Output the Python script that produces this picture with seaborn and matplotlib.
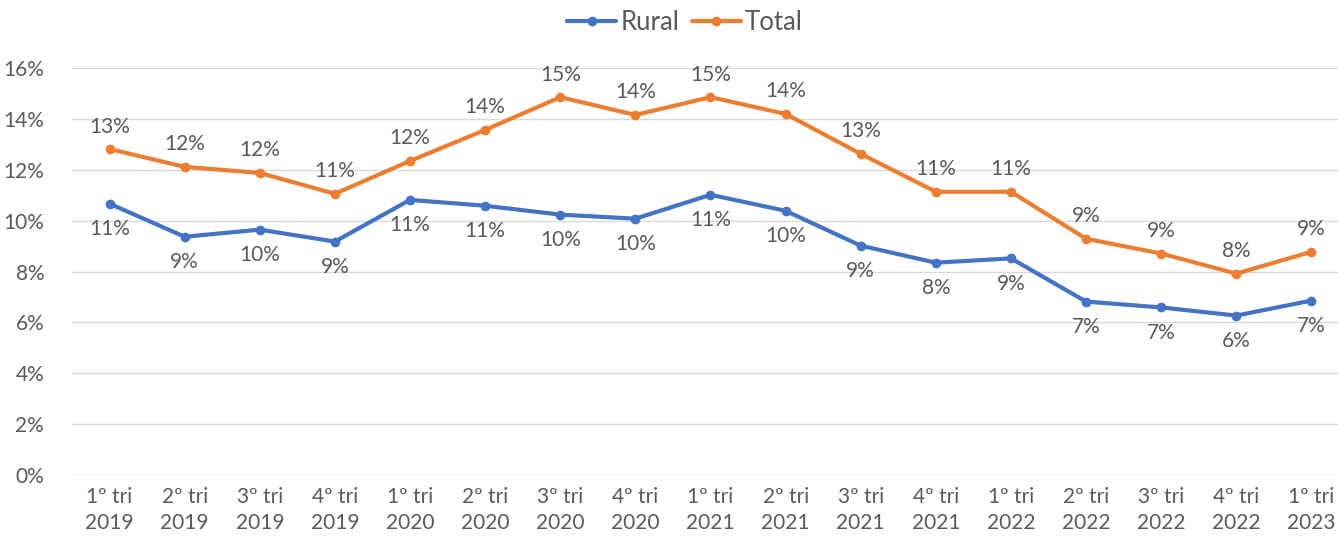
import numpy as np
import pandas as pd
import seaborn as sns
import matplotlib.pyplot as plt
from matplotlib.ticker import PercentFormatter

# dados
trimestres = ["1º tri\n2019", "2º tri\n2019", "3º tri\n2019", "4º tri\n2019",
              "1º tri\n2020", "2º tri\n2020", "3º tri\n2020", "4º tri\n2020",
              "1º tri\n2021", "2º tri\n2021", "3º tri\n2021", "4º tri\n2021",
              "1º tri\n2022", "2º tri\n2022", "3º tri\n2022", "4º tri\n2022",
              "1º tri\n2023"]
rural = [0.1067, 0.0937, 0.0965, 0.0918, 0.1082, 0.1059, 0.1024, 0.1008,
         0.1102, 0.1039, 0.0902, 0.0835, 0.0852, 0.0682, 0.0659, 0.0627, 0.0686]
total = [0.1282, 0.1212, 0.1188, 0.1106, 0.1235, 0.1357, 0.1486, 0.1416,
         0.1486, 0.1420, 0.1263, 0.1114, 0.1114, 0.0929, 0.0871, 0.0792, 0.0878]

df = pd.DataFrame({
    "trimestre": trimestres * 2,
    "valor": rural + total,
    "serie": ["Rural"] * len(rural) + ["Total"] * len(total),
})

sns.set_style("white")
plt.rcParams["font.family"] = ["Lato", "DejaVu Sans"]
cinza = "#595959"
cores = {"Rural": "#4472C4", "Total": "#ED7D31"}

fig = plt.figure(figsize=(13.38, 5.41), dpi=100)
ax = fig.add_axes([0.0538, 0.122, 0.9544, 0.752])

sns.lineplot(data=df, x="trimestre", y="valor", hue="serie", palette=cores,
             marker="o", markersize=7, markeredgewidth=0, linewidth=3,
             sort=False, ax=ax)

# rótulos de dados
for i, (r, t) in enumerate(zip(rural, total)):
    ax.annotate(f"{r*100:.0f}%", (i, r), xytext=(0, -11), textcoords="offset points",
                ha="center", va="top", fontsize=15, color=cinza)
    ax.annotate(f"{t*100:.0f}%", (i, t), xytext=(0, 9), textcoords="offset points",
                ha="center", va="bottom", fontsize=15, color=cinza)

ax.set_xlim(-0.5, len(trimestres) - 0.5)
ax.set_ylim(0, 0.16)
ax.set_yticks(np.arange(0, 0.161, 0.02))
ax.yaxis.set_major_formatter(PercentFormatter(1.0, decimals=0))
ax.grid(axis="y", color="#D9D9D9", linewidth=1)
ax.set_axisbelow(True)
for s in ax.spines.values():
    s.set_visible(False)
ax.tick_params(axis="both", length=0, labelsize=15, labelcolor=cinza)
ax.tick_params(axis="y", pad=20)
ax.tick_params(axis="x", pad=9)
for lbl in ax.get_xticklabels():
    lbl.set_linespacing(1.35)
ax.set_xlabel("")
ax.set_ylabel("")

leg = ax.legend(loc="upper center", bbox_to_anchor=(0.48, 1.2), ncol=2, frameon=False,
                fontsize=18.5, handlelength=1.9, handletextpad=0.15, columnspacing=0.5)
for txt in leg.get_texts():
    txt.set_color(cinza)

fig.savefig("out.png", dpi=100)
